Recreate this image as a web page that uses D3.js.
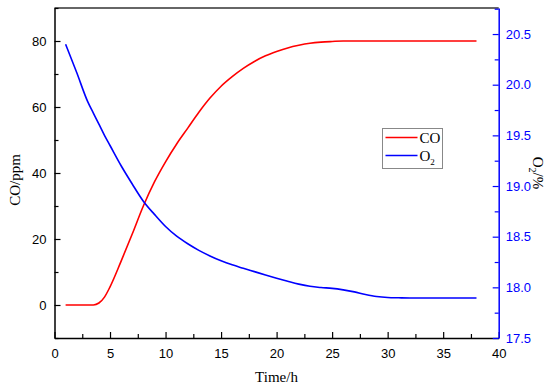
<!DOCTYPE html>
<html>
<head>
<meta charset="utf-8">
<script src="https://cdn.jsdelivr.net/npm/d3@7"></script>
<style>
  body { margin: 0; background: #fff; }
  svg { display: block; }
  .tick text { font-family: 'Liberation Sans', Arial, sans-serif; font-size: 13px; }
  .title { font-family: 'Liberation Serif', 'Times New Roman', serif; font-size: 15px; }
</style>
</head>
<body>
<svg id="chart" width="550" height="389"></svg>
<script>
// data
const hours = [1, 2, 3, 3.5, 4, 4.5, 5, 6, 7, 8, 9, 10, 11, 12, 13, 14, 15, 16, 17, 18, 19,
  20, 21, 22, 23, 24, 25, 26, 27, 28, 29, 30, 31, 32, 33, 34, 35, 36, 37, 38];
const coPpm = [0, 0, 0, 0, 0.6, 2.4, 5.5, 13.3, 21.5, 30, 37.3, 43.4, 48.8, 53.6, 58.4, 62.7, 66.3, 69.2, 71.7, 73.8, 75.5,
  76.8, 77.9, 78.7, 79.3, 79.65, 79.85, 80, 80, 80, 80, 80, 80, 80, 80, 80, 80, 80, 80, 80];
const o2Pct = [20.4, 20.12, 19.83, 19.72, 19.61, 19.5, 19.4, 19.2, 19.02, 18.85, 18.72, 18.6, 18.505, 18.43, 18.365, 18.31, 18.262, 18.222, 18.188, 18.155, 18.122,
  18.09, 18.06, 18.032, 18.01, 17.998, 17.99, 17.975, 17.955, 17.93, 17.91, 17.9, 17.897, 17.895, 17.895, 17.895, 17.895, 17.895, 17.895, 17.895];

const xTicks = [0, 5, 10, 15, 20, 25, 30, 35, 40];
const coTicks = [0, 20, 40, 60, 80];
const o2Ticks = [17.5, 18.0, 18.5, 19.0, 19.5, 20.0, 20.5];

const svg = d3.select('#chart');
const plotL = 54.5, plotR = 498.7, plotT = 8, plotB = 338;

const x = d3.scaleLinear().domain([0, 40]).range([plotL, plotR]);
const yCo = d3.scaleLinear().domain([-10, 90]).range([plotB, plotT]);
const yO2 = d3.scaleLinear().domain([17.5, 20.757]).range([plotB, plotT]);

// top frame line
svg.append('line')
  .attr('x1', plotL).attr('x2', plotR).attr('y1', plotT).attr('y2', plotT)
  .attr('stroke', '#333').attr('stroke-width', 1.5);

// minor ticks first, then major axes on top
svg.append('g')
  .attr('transform', `translate(0,${plotB})`)
  .call(d3.axisTop(x).tickValues(d3.range(2.5, 40, 5)).tickSize(4).tickFormat(''))
  .call(g => g.select('.domain').remove())
  .selectAll('line').attr('stroke', '#000').attr('stroke-width', 1.2);

svg.append('g')
  .attr('transform', `translate(${plotL},0)`)
  .call(d3.axisRight(yCo).tickValues([-10, 10, 30, 50, 70, 90]).tickSize(4).tickFormat(''))
  .call(g => g.select('.domain').remove())
  .selectAll('line').attr('stroke', '#000').attr('stroke-width', 1.2);

svg.append('g')
  .attr('transform', `translate(${plotR},0)`)
  .call(d3.axisLeft(yO2).tickValues([17.75, 18.25, 18.75, 19.25, 19.75, 20.25, 20.75]).tickSize(4).tickFormat(''))
  .call(g => g.select('.domain').remove())
  .selectAll('line').attr('stroke', '#00f').attr('stroke-width', 1.2);

// x axis
const xAxis = svg.append('g')
  .attr('transform', `translate(0,${plotB})`)
  .call(d3.axisTop(x).tickValues(xTicks).tickSize(6).tickSizeOuter(0).tickFormat(d3.format('d')));
xAxis.select('.domain').attr('stroke', '#000').attr('stroke-width', 1.5);
xAxis.selectAll('.tick line').attr('stroke', '#000').attr('stroke-width', 1.2);
xAxis.selectAll('.tick text').attr('y', 20).attr('dy', 0).attr('fill', '#000');

// left axis
const coAxis = svg.append('g')
  .attr('transform', `translate(${plotL},0)`)
  .call(d3.axisRight(yCo).tickValues(coTicks).tickSize(6).tickSizeOuter(0).tickFormat(d3.format('d')));
coAxis.select('.domain').attr('stroke', '#000').attr('stroke-width', 1.5);
coAxis.selectAll('.tick line').attr('stroke', '#000').attr('stroke-width', 1.2);
coAxis.selectAll('.tick text').attr('x', -8).attr('text-anchor', 'end').attr('fill', '#000');

// right axis
const o2Axis = svg.append('g')
  .attr('transform', `translate(${plotR},0)`)
  .call(d3.axisLeft(yO2).tickValues(o2Ticks).tickSize(6).tickSizeOuter(0).tickFormat(d3.format('.1f')));
o2Axis.select('.domain').attr('stroke', '#00f').attr('stroke-width', 1.5);
o2Axis.selectAll('.tick line').attr('stroke', '#00f').attr('stroke-width', 1.2);
o2Axis.selectAll('.tick text').attr('x', 7).attr('text-anchor', 'start').attr('fill', '#00f');

// lines
const coLine = d3.line().x((d, i) => x(hours[i])).y(d => yCo(d)).curve(d3.curveMonotoneX);
const o2Line = d3.line().x((d, i) => x(hours[i])).y(d => yO2(d)).curve(d3.curveMonotoneX);

svg.append('path').datum(coPpm)
  .attr('d', coLine).attr('fill', 'none').attr('stroke', '#f00').attr('stroke-width', 1.6);
svg.append('path').datum(o2Pct)
  .attr('d', o2Line).attr('fill', 'none').attr('stroke', '#00f').attr('stroke-width', 1.6);

// axis titles
svg.append('text').attr('class', 'title')
  .attr('text-anchor', 'middle')
  .attr('transform', 'translate(276.5, 382)')
  .text('Time/h');

svg.append('text').attr('class', 'title')
  .attr('text-anchor', 'middle')
  .attr('transform', 'translate(20, 180) rotate(-90)')
  .text('CO/ppm');

const o2Title = svg.append('text').attr('class', 'title')
  .attr('text-anchor', 'middle')
  .attr('transform', 'translate(533, 173) rotate(90)');
o2Title.append('tspan').text('O');
o2Title.append('tspan').attr('font-size', 10).attr('dy', 4).text('2');
o2Title.append('tspan').attr('dy', -4).text('/%');

// legend
const legend = svg.append('g').attr('transform', 'translate(382.5, 128.5)');
legend.append('rect')
  .attr('width', 60).attr('height', 40)
  .attr('fill', '#fff').attr('stroke', '#888').attr('stroke-width', 1);
legend.append('line').attr('x1', 3).attr('x2', 35).attr('y1', 9).attr('y2', 9)
  .attr('stroke', '#f00').attr('stroke-width', 1.6);
legend.append('line').attr('x1', 3).attr('x2', 35).attr('y1', 27).attr('y2', 27)
  .attr('stroke', '#00f').attr('stroke-width', 1.6);
legend.append('text').attr('class', 'title').attr('font-size', 14)
  .attr('x', 37).attr('y', 14).text('CO');
const lgO2 = legend.append('text').attr('class', 'title').attr('font-size', 14)
  .attr('x', 37).attr('y', 32);
lgO2.append('tspan').text('O');
lgO2.append('tspan').attr('font-size', 9).attr('dy', 4).text('2');
</script>
</body>
</html>
